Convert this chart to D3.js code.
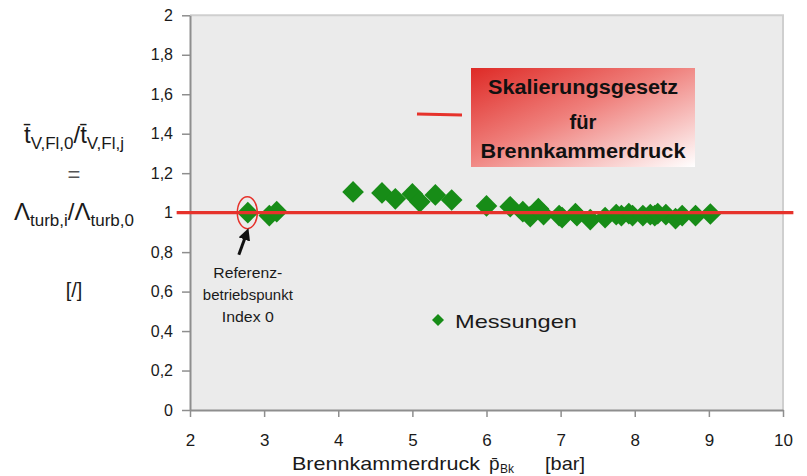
<!DOCTYPE html>
<html>
<head>
<meta charset="utf-8">
<script src="https://cdn.jsdelivr.net/npm/d3@7"></script>
<style>
  html, body { margin: 0; padding: 0; background: #fff; }
  svg { display: block; font-family: "Liberation Sans", Arial, sans-serif; }
</style>
</head>
<body>
<svg id="chart" width="807" height="476"></svg>
<script>
// Measured pressure (bar) and normalised flame-time ratio
const pressure = [2.78, 3.07, 3.17, 4.2, 4.59, 4.77, 5.0, 5.1, 5.31, 5.53,
  6.0, 6.32, 6.49, 6.59, 6.7, 6.77, 6.98, 7.02, 7.2, 7.22, 7.4, 7.6, 7.75,
  7.82, 7.92, 7.97, 8.11, 8.21, 8.27, 8.31, 8.42, 8.55, 8.64, 8.82, 9.02];
const ratio = [1.0, 0.985, 1.005, 1.105, 1.1, 1.07, 1.095, 1.055, 1.09, 1.064,
  1.034, 1.03, 1.005, 0.98, 1.02, 0.99, 0.985, 0.975, 0.995, 0.985, 0.965, 0.975, 0.99,
  0.985, 0.995, 0.985, 0.985, 0.99, 0.985, 0.995, 0.99, 0.97, 0.985, 0.985, 0.993];

// Scaling law: constant ratio of 1 over the pressure range
const lawPressure = [1.82, 10.14];
const lawRatio = [1, 1];

// Reference operating point (index 0)
const refPoint = [2.78, 1.0];

const xTicks = [2, 3, 4, 5, 6, 7, 8, 9, 10];
const yTicks = [0, 0.2, 0.4, 0.6, 0.8, 1, 1.2, 1.4, 1.6, 1.8, 2];

const svg = d3.select("#chart");
const m = { left: 190, right: 783, top: 15.3, bottom: 410 };

const x = d3.scaleLinear().domain([2, 10]).range([m.left, m.right]);
const y = d3.scaleLinear().domain([0, 2]).range([m.bottom, m.top]);

const de = d3.formatLocale({ decimal: ",", thousands: ".", grouping: [3], currency: ["", " €"] });
const fmt = de.format("~g");

const green = "#178c17";
const red = "#e6322b";
const axisGrey = "#8e8e8e";
const ink = "#1a1a1a";

// helper: text stretched to a given width
function label(parent, t, xx, yy, size, opts = {}) {
  const el = parent.append("text").attr("x", xx).attr("y", yy)
    .attr("font-size", size).attr("fill", opts.fill || ink)
    .attr("text-anchor", opts.anchor || "start").text(t);
  if (opts.weight) el.attr("font-weight", opts.weight);
  if (opts.width) el.attr("textLength", opts.width).attr("lengthAdjust", "spacingAndGlyphs");
  return el;
}

// plot area
svg.append("rect")
  .attr("x", m.left).attr("y", m.top)
  .attr("width", m.right - m.left).attr("height", m.bottom - m.top)
  .attr("fill", "#ebebeb");
svg.append("path")
  .attr("d", `M${m.left},${m.top}H${m.right}V${m.bottom}`)
  .attr("fill", "none").attr("stroke", "#cfcfcf").attr("stroke-width", 2);

// axes
const yAxis = svg.append("g")
  .attr("transform", `translate(${m.left},0)`)
  .call(d3.axisLeft(y).tickValues(yTicks).tickFormat(fmt).tickSizeInner(8).tickSizeOuter(0).tickPadding(9));
const xAxis = svg.append("g")
  .attr("transform", `translate(0,${m.bottom})`)
  .call(d3.axisBottom(x).tickValues(xTicks).tickFormat(fmt).tickSizeInner(7).tickSizeOuter(0).tickPadding(17));
[yAxis, xAxis].forEach(g => {
  g.select(".domain").attr("stroke", axisGrey).attr("stroke-width", 2);
  g.selectAll(".tick line").attr("stroke", axisGrey).attr("stroke-width", 1.5);
  g.selectAll(".tick text").attr("fill", ink).attr("font-size", 16)
    .attr("font-family", "'Liberation Sans', Arial, sans-serif");
});
xAxis.selectAll(".tick text").attr("font-size", 17);

// measurements
const pts = pressure.map((p, i) => [p, ratio[i]]);
const diamond = d3.symbol().type(d3.symbolSquare).size(235);
svg.append("g").selectAll("path").data(pts).join("path")
  .attr("d", diamond)
  .attr("transform", d => `translate(${x(d[0])},${y(d[1])}) rotate(45)`)
  .attr("fill", green);

// scaling law line
svg.append("line")
  .attr("x1", x(lawPressure[0])).attr("x2", x(lawPressure[1]))
  .attr("y1", y(lawRatio[0])).attr("y2", y(lawRatio[1]))
  .attr("stroke", red).attr("stroke-width", 3.2);

// reference point marker and arrow
svg.append("ellipse")
  .attr("cx", x(refPoint[0]) - 0.5).attr("cy", y(refPoint[1]))
  .attr("rx", 10).attr("ry", 16)
  .attr("fill", "none").attr("stroke", red).attr("stroke-width", 1.5);

const defs = svg.append("defs");
defs.append("marker")
  .attr("id", "head").attr("viewBox", "0 0 10 10")
  .attr("refX", 6).attr("refY", 5)
  .attr("markerWidth", 4).attr("markerHeight", 4)
  .attr("orient", "auto")
  .append("path").attr("d", "M0,0L10,5L0,10Z").attr("fill", "#111");
svg.append("line")
  .attr("x1", x(refPoint[0]) - 9).attr("y1", y(refPoint[1]) + 42)
  .attr("x2", x(refPoint[0]) - 1).attr("y2", y(refPoint[1]) + 20)
  .attr("stroke", "#111").attr("stroke-width", 3)
  .attr("marker-end", "url(#head)");

[["Referenz-", 278, 69], ["betriebspunkt", 300, 90], ["Index 0", 322, 52]].forEach(([t, yy, w]) =>
  label(svg, t, x(refPoint[0]), yy, 15.5, { anchor: "middle", width: w }));

// scaling law legend
const grad = defs.append("linearGradient")
  .attr("id", "lawFill").attr("x1", 0).attr("y1", 0).attr("x2", 1).attr("y2", 1);
grad.append("stop").attr("offset", "0%").attr("stop-color", "#de2a26");
grad.append("stop").attr("offset", "45%").attr("stop-color", "#ef7f7b");
grad.append("stop").attr("offset", "100%").attr("stop-color", "#ffffff");
svg.append("rect")
  .attr("x", 471).attr("y", 68).attr("width", 224).attr("height", 99)
  .attr("fill", "url(#lawFill)");
svg.append("line")
  .attr("x1", 417).attr("x2", 462).attr("y1", 114).attr("y2", 115)
  .attr("stroke", red).attr("stroke-width", 3);
[["Skalierungsgesetz", 94, 190], ["für", 129, 27], ["Brennkammerdruck", 158, 205]].forEach(([t, yy, w]) =>
  label(svg, t, 583, yy, 20, { anchor: "middle", weight: "bold", fill: "#111", width: w }));

// measurement legend
svg.append("path")
  .attr("d", d3.symbol().type(d3.symbolSquare).size(72))
  .attr("transform", "translate(438,320) rotate(45)")
  .attr("fill", green);
label(svg, "Messungen", 455, 328, 19, { width: 122 });

// x axis title
label(svg, "Brennkammerdruck", 292, 470, 19, { width: 188 });
label(svg, "p\u0304", 489, 470, 19);
label(svg, "Bk", 500, 473, 12);
label(svg, "[bar]", 545, 470, 19, { width: 40 });

// y axis title
const cx = 74;
const l1 = svg.append("text").attr("x", cx).attr("y", 143)
  .attr("text-anchor", "middle").attr("font-size", 24).attr("fill", ink);
l1.append("tspan").text("t\u0304");
l1.append("tspan").attr("font-size", 17).attr("dy", 6).text("V,Fl,0");
l1.append("tspan").attr("dy", -6).text("/t\u0304");
l1.append("tspan").attr("font-size", 17).attr("dy", 6).text("V,Fl,j");

label(svg, "=", cx, 182, 22, { anchor: "middle", fill: "#555" });

const l3 = svg.append("text").attr("x", cx).attr("y", 220)
  .attr("text-anchor", "middle").attr("font-size", 24).attr("fill", ink);
l3.append("tspan").text("\u039B");
l3.append("tspan").attr("font-size", 17).attr("dy", 6).text("turb,i");
l3.append("tspan").attr("dy", -6).text("/\u039B");
l3.append("tspan").attr("font-size", 17).attr("dy", 6).text("turb,0");

label(svg, "[/]", cx, 297, 20, { anchor: "middle" });
</script>
</body>
</html>
